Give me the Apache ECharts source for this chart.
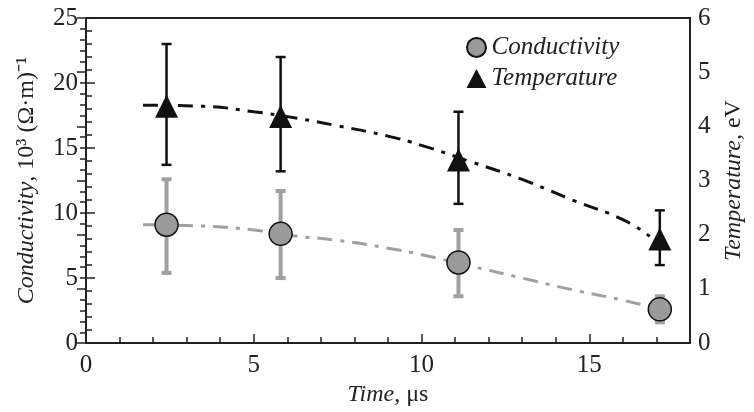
<!DOCTYPE html>
<html>
<head>
<meta charset="utf-8">
<script src="https://cdn.jsdelivr.net/npm/echarts@6/dist/echarts.min.js"></script>
<style>
  html, body { margin: 0; padding: 0; background: #fff; }
  #chart { width: 754px; height: 412px; }
</style>
</head>
<body>
<div id="chart"></div>
<script>
// measured points
var timeX = [2.4, 5.8, 11.1, 17.1];
var condVal = [9.1, 8.4, 6.2, 2.6];
var condLow = [5.4, 5.0, 3.6, 1.6];
var condHigh = [12.6, 11.7, 8.7, 3.6];
var tempVal = [4.37, 4.18, 3.38, 1.92];
var tempLow = [3.29, 3.17, 2.57, 1.44];
var tempHigh = [5.52, 5.28, 4.27, 2.45];
// dash-dot fit curves
var fitX = [1.7, 3.5, 5, 6, 7.5, 9, 10, 11.5, 13, 14.5, 16, 16.8];
var condFit = [9.1, 9.0, 8.7, 8.3, 7.9, 7.3, 6.8, 5.9, 5.0, 4.1, 3.3, 2.8];
var tempFit = [4.39, 4.37, 4.27, 4.18, 4.01, 3.82, 3.65, 3.34, 3.02, 2.64, 2.28, 1.97];

var font = 'Liberation Serif';
var chart = echarts.init(document.getElementById('chart'));

function zip(a, b) {
    return a.map(function (v, i) { return [v, b[i]]; });
}
function zip3(a, b, c) {
    return a.map(function (v, i) { return [v, b[i], c[i]]; });
}
function errorBar(color, width, cap) {
    return function (params, api) {
        var lo = api.coord([api.value(0), api.value(1)]);
        var hi = api.coord([api.value(0), api.value(2)]);
        var st = {stroke: color, lineWidth: width};
        return {
            type: 'group',
            children: [
                {type: 'line', shape: {x1: lo[0], y1: lo[1], x2: hi[0], y2: hi[1]}, style: st},
                {type: 'line', shape: {x1: lo[0] - cap, y1: lo[1], x2: lo[0] + cap, y2: lo[1]}, style: st},
                {type: 'line', shape: {x1: hi[0] - cap, y1: hi[1], x2: hi[0] + cap, y2: hi[1]}, style: st}
            ]
        };
    };
}

var labelStyle = {color: '#222', fontFamily: font, fontSize: 25};
var nameRich = {
    i: {fontStyle: 'italic', fontFamily: font, fontSize: 24, color: '#222'},
    n: {fontFamily: font, fontSize: 24, color: '#222'}
};

var option = {
    animation: false,
    grid: {left: 86, right: 56, top: 18, bottom: 64, show: true, borderColor: '#222', borderWidth: 2},
    legend: {
        data: ['Conductivity', 'Temperature'],
        orient: 'vertical',
        left: 461,
        top: 30,
        itemWidth: 20,
        itemHeight: 19,
        itemGap: 6,
        textStyle: {fontFamily: font, fontStyle: 'italic', fontSize: 25, color: '#222'}
    },
    xAxis: [
        {
            type: 'value', min: 0, max: 18, interval: 5,
            name: '{i|Time}{n|, μs}', nameLocation: 'middle', nameGap: 38,
            nameTextStyle: {rich: nameRich},
            axisLine: {lineStyle: {color: '#222', width: 2}},
            axisTick: {inside: true, length: 9, lineStyle: {color: '#222', width: 1.5}},
            axisLabel: Object.assign({showMaxLabel: false, margin: 10}, labelStyle),
            splitLine: {show: false}
        },
        {
            type: 'value', min: 0, max: 18, interval: 1, position: 'bottom',
            axisLine: {show: false},
            axisTick: {inside: true, length: 6, lineStyle: {color: '#222', width: 1.5}},
            axisLabel: {show: false},
            splitLine: {show: false}
        }
    ],
    yAxis: [
        {
            type: 'value', min: 0, max: 25, interval: 5,
            name: '{i|Conductivity}{n|, 10³ (Ω·m)⁻¹}', nameLocation: 'middle', nameGap: 47,
            nameTextStyle: {rich: nameRich},
            axisLine: {show: true, lineStyle: {color: '#222', width: 2}},
            axisTick: {inside: true, length: 9, lineStyle: {color: '#222', width: 1.5}},
            minorTick: {show: true, splitNumber: 5, length: 6, lineStyle: {color: '#222', width: 1.5}},
            axisLabel: labelStyle,
            splitLine: {show: false}
        },
        {
            type: 'value', min: 0, max: 6, interval: 1, position: 'right',
            name: '{i|Temperature}{n|, eV}', nameLocation: 'middle', nameGap: 32, nameRotate: 90,
            nameTextStyle: {rich: nameRich},
            axisLine: {show: true, lineStyle: {color: '#222', width: 2}},
            axisTick: {inside: true, length: 9, lineStyle: {color: '#222', width: 1.5}},
            minorTick: {show: true, splitNumber: 5, length: 6, lineStyle: {color: '#222', width: 1.5}},
            axisLabel: labelStyle,
            splitLine: {show: false}
        }
    ],
    series: [
        {
            type: 'line', name: 'condFit', data: zip(fitX, condFit), smooth: true,
            showSymbol: false, silent: true, z: 1,
            lineStyle: {color: '#a0a0a0', width: 3, type: [15, 8, 4, 8]}
        },
        {
            type: 'line', name: 'tempFit', data: zip(fitX, tempFit), yAxisIndex: 1, smooth: true,
            showSymbol: false, silent: true, z: 1,
            lineStyle: {color: '#111', width: 3, type: [15, 8, 4, 8]}
        },
        {
            type: 'custom', name: 'condErr', data: zip3(timeX, condLow, condHigh),
            renderItem: errorBar('#a0a0a0', 4, 5), z: 2, silent: true
        },
        {
            type: 'custom', name: 'tempErr', data: zip3(timeX, tempLow, tempHigh), yAxisIndex: 1,
            renderItem: errorBar('#111', 2.5, 5), z: 2, silent: true
        },
        {
            type: 'scatter', name: 'Conductivity', data: zip(timeX, condVal),
            symbol: 'circle', symbolSize: 23, z: 5,
            itemStyle: {color: '#9a9a9a', borderColor: '#111', borderWidth: 1.5, opacity: 1}
        },
        {
            type: 'scatter', name: 'Temperature', data: zip(timeX, tempVal), yAxisIndex: 1,
            symbol: 'triangle', symbolSize: 23, z: 5,
            itemStyle: {color: '#111', opacity: 1}
        }
    ]
};
chart.setOption(option);
</script>
</body>
</html>
